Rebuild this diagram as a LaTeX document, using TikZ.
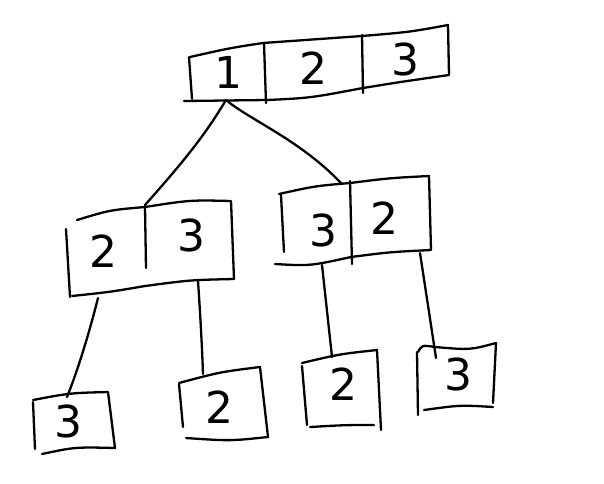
\documentclass[tikz,border=0pt]{standalone}
\usepackage{fontspec}
\setmainfont{DejaVu Sans}
\begin{document}
\begin{tikzpicture}[x=1pt,y=-1pt,
  ink/.style={line width=2.3pt,line cap=round,line join=round,black},
  digit/.style={font=\fontsize{44}{44}\selectfont, inner sep=0pt, anchor=center}]
\useasboundingbox (0,0) rectangle (604,483);

% ---------- root box ----------
\draw[ink] (190,57) .. controls (230,48) .. (263,43) -- (362,36) .. controls (410,32) .. (448,25)
  -- (449,75) .. controls (400,82) .. (363,88) .. controls (310,98) .. (267,100) -- (184,101);
\draw[ink] (189,57) -- (192,99);
\draw[ink] (264,43) -- (266,103);
\draw[ink] (362,35) -- (363,93);
\node[digit] (r1) at (228,72) {1};
\node[digit] (r2) at (313,68) {2};
\node[digit] (r3) at (405,59) {3};
\coordinate (rootb) at (226,100);

% ---------- left child ----------
\draw[ink] (77,220) .. controls (110,210) .. (145,207) .. controls (190,200) .. (231,201)
  -- (234,279) .. controls (190,280) .. (145,286) .. controls (110,292) .. (72,296);
\draw[ink] (66,229) -- (70,297);
\draw[ink] (145,207) -- (146,268);
\node[digit] (l1) at (103,251) {2};
\node[digit] (l2) at (191,235) {3};
\coordinate (lt) at (145,205);
\coordinate (lb1) at (98,298);
\coordinate (lb2) at (198,281);

% ---------- right child ----------
\draw[ink] (279,194) .. controls (315,186) .. (350,183) .. controls (390,178) .. (429,176)
  -- (431,250) .. controls (390,252) .. (351,257) .. controls (310,266) .. (275,264);
\draw[ink] (281,195) -- (284,252);
\draw[ink] (350,181) -- (352,264);
\node[digit] (c1) at (323,230) {3};
\node[digit] (c2) at (384,218) {2};
\coordinate (rt) at (341,183);
\coordinate (rb1) at (322,265);
\coordinate (rb2) at (420,253);

% ---------- leaves ----------
% leaf 1
\draw[ink] (33,400) .. controls (70,393) .. (108,392) -- (115,448) .. controls (75,447) .. (42,454);
\draw[ink] (33,402) -- (35,449);
\node[digit] (a) at (68,421) {3};
\coordinate (at) at (67,397);
% leaf 2
\draw[ink] (179,383) .. controls (220,372) .. (260,367) -- (268,437) .. controls (230,441) .. (186,438);
\draw[ink] (179,384) -- (183,427);
\node[digit] (b) at (219,407) {2};
\coordinate (bt) at (203,374);
% leaf 3
\draw[ink] (302,363) .. controls (340,354) .. (377,350) -- (381,430);
\draw[ink] (302,366) -- (307,425);
\draw[ink] (310,427) .. controls (345,425) .. (374,425);
\node[digit] (c) at (343,384) {2};
\coordinate (ct) at (332,357);
% leaf 4
\draw[ink] (418,352) .. controls (422,345) .. (435,347) .. controls (470,350) .. (496,343) -- (493,403);
\draw[ink] (417,352) -- (418,415);
\draw[ink] (424,410) .. controls (460,405) .. (493,407);
\node[digit] (d) at (458,374) {3};
\coordinate (dt) at (436,358);

% ---------- connectors ----------
\draw[ink] (rootb) .. controls (205,135) and (185,160) .. (lt);
\draw[ink] (rootb) .. controls (250,120) and (300,140) .. (rt);
\draw[ink] (lb1) .. controls (90,330) and (78,370) .. (at);
\draw[ink] (lb2) .. controls (200,310) and (202,345) .. (bt);
\draw[ink] (rb1) -- (ct);
\draw[ink] (rb2) -- (dt);
\end{tikzpicture}
\end{document}
